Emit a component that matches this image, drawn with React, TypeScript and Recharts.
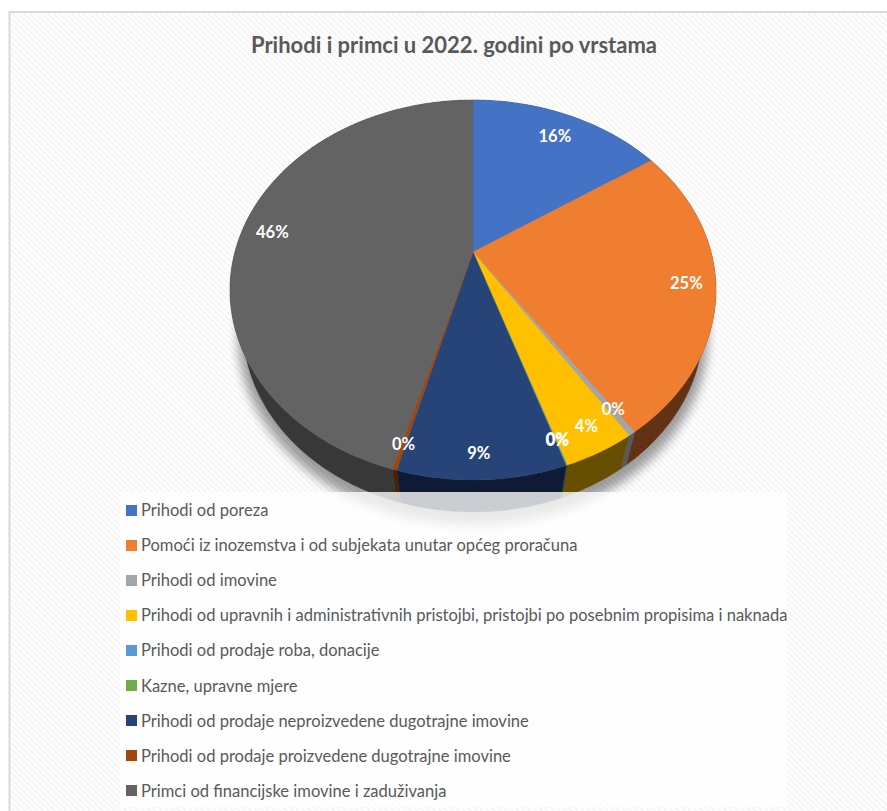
import React from "react";
import { PieChart, Pie, Legend } from "recharts";

const categories = [
  "Prihodi od poreza",
  "Pomoći iz inozemstva i od subjekata unutar općeg proračuna",
  "Prihodi od imovine",
  "Prihodi od upravnih i administrativnih pristojbi, pristojbi po posebnim propisima i naknada",
  "Prihodi od prodaje roba, donacije",
  "Kazne, upravne mjere",
  "Prihodi od prodaje neproizvedene dugotrajne imovine",
  "Prihodi od prodaje proizvedene dugotrajne imovine",
  "Primci od financijske imovine i zaduživanja",
];
const shares = [15.6, 24.8, 0.4, 4.0, 0.05, 0.02, 9.3, 0.25, 45.58];
const topColors = ["#4472C4", "#F07E30", "#A5A5A5", "#FFC000", "#5B9BD5", "#70AD47", "#264478", "#9E480E", "#636363"];
const wallColors = ["#1B2E4F", "#613214", "#565A60", "#665000", "#243E55", "#2D451C", "#0E1B33", "#4A2106", "#383838"];
const labelNudgeX = [-1, 2, 2, 3, 3, 3, -2, -1, -1];
const labelNudgeY = [-2, -5, -6, -5, -3, -3, -2, -2, -4];

const title = "Prihodi i primci u 2022. godini po vrstama";
const FONT = "Lato, 'Open Sans', sans-serif";

const data = categories.map((name, i) => ({ name, value: shares[i], fill: topColors[i], wall: wallColors[i] }));

// Perspective tilt of the disc: the apex sits above the centre of the drawn ellipse.
const TILT = -0.2;
const SQUASH = 190 / 243;
const CENTRE_DROP = 38;
const BOTTOM_SCALE = 230 / 243;
const BOTTOM_SQUASH = 185 / 243;
const BOTTOM_DROP = 75;

function project(deg: number, r = 1) {
  const t = (deg * Math.PI) / 180;
  const x = Math.sin(t) * r;
  const y = -Math.cos(t) * r;
  const d = 1 + TILT * y;
  return { x: (x * Math.sqrt(1 - TILT * TILT)) / d, y: (y + TILT) / d };
}

function arcAngles(a0: number, a1: number) {
  const out: number[] = [];
  const n = Math.max(1, Math.ceil(Math.abs(a1 - a0)));
  for (let i = 0; i <= n; i++) out.push(a0 + ((a1 - a0) * i) / n);
  return out;
}

function TopSlice(p: any) {
  const { cx, cy, outerRadius: R, startAngle, endAngle, fill } = p;
  const pts = arcAngles(90 - startAngle, 90 - endAngle).map((a) => {
    const q = project(a);
    return `${cx + q.x * R} ${cy + CENTRE_DROP + q.y * R * SQUASH}`;
  });
  return <path d={`M${cx} ${cy}L${pts.join("L")}Z`} fill={fill} stroke={fill} strokeWidth={0.3} />;
}

function WallSlice(p: any) {
  const { cx, cy, outerRadius: R, startAngle, endAngle, wall } = p;
  const angles = arcAngles(90 - startAngle, 90 - endAngle);
  const upper = angles.map((a) => {
    const q = project(a);
    return `${cx + q.x * R} ${cy + CENTRE_DROP + q.y * R * SQUASH}`;
  });
  const lower = angles
    .slice()
    .reverse()
    .map((a) => {
      const q = project(a);
      return `${cx + q.x * R * BOTTOM_SCALE} ${cy + BOTTOM_DROP + q.y * R * BOTTOM_SQUASH}`;
    });
  return <path d={`M${upper.join("L")}L${lower.join("L")}Z`} fill={wall} stroke={wall} strokeWidth={0.3} />;
}

function renderLabel(p: any) {
  const { cx, cy, outerRadius: R, midAngle, percent, index } = p;
  const q = project(90 - midAngle);
  const x = cx + 0.87 * q.x * R + labelNudgeX[index];
  const y = cy + CENTRE_DROP + 0.87 * q.y * R * SQUASH + labelNudgeY[index];
  return (
    <text x={x} y={y} fill="#FFFFFF" fontFamily={FONT} fontSize={16.5} fontWeight={700} textAnchor="middle" dominantBaseline="central">
      {`${Math.round(percent * 100)}%`}
    </text>
  );
}

function LegendBox({ payload }: any) {
  const rows = categories.map((c) => (payload || []).find((e: any) => e.value === c)).filter(Boolean);
  return (
    <div style={{ paddingTop: 0.5 }}>
      {rows.map((e: any) => (
        <div key={e.value} style={{ height: 35.1, display: "flex", alignItems: "center", whiteSpace: "nowrap" }}>
          <span style={{ width: 11, height: 11, marginLeft: 6, marginRight: 4, background: e.color, flex: "none" }} />
          <span style={{ fontFamily: FONT, fontSize: 16.55, color: "#595959" }}>{e.value}</span>
        </div>
      ))}
    </div>
  );
}

export default function App() {
  return (
    <div style={{ position: "absolute", left: 0, top: 0 }}>
      <PieChart width={887} height={811} margin={{ top: 0, right: 0, bottom: 0, left: 0 }}>
        <defs>
          <pattern id="hatch" width="4.2" height="4.2" patternUnits="userSpaceOnUse" patternTransform="rotate(45)">
            <rect width="4.2" height="4.2" fill="#FFFFFF" />
            <rect width="4.2" height="1.9" fill="#F5F5F5" />
          </pattern>
          <filter id="soft" x="-20%" y="-20%" width="140%" height="140%">
            <feGaussianBlur stdDeviation="5.5" />
          </filter>
        </defs>
        <rect x={0} y={0} width={887} height={811} fill="#FFFFFF" />
        <rect x={9.5} y={12} width={900} height={820} fill="url(#hatch)" stroke="#D9D9D9" strokeWidth={2} />
        <ellipse cx={473} cy={336} rx={235} ry={189} fill="#000000" opacity={0.38} filter="url(#soft)" />
        <text x={454} y={44} textAnchor="middle" dominantBaseline="central" fontFamily={FONT} fontSize={22} fontWeight={700} fill="#595959">
          {title}
        </text>
        <Pie
          data={data}
          dataKey="value"
          nameKey="name"
          cx={473}
          cy={252}
          outerRadius={243}
          startAngle={90}
          endAngle={-270}
          legendType="none"
          shape={WallSlice}
          isAnimationActive={false}
          label={false}
          labelLine={false}
        />
        <Pie
          data={data}
          dataKey="value"
          nameKey="name"
          cx={473}
          cy={252}
          outerRadius={243}
          startAngle={90}
          endAngle={-270}
          legendType="square"
          shape={TopSlice}
          isAnimationActive={false}
          label={renderLabel}
          labelLine={false}
        />
        <Legend
          layout="vertical"
          align="center"
          verticalAlign="middle"
          itemSorter={null}
          content={<LegendBox />}
          wrapperStyle={{ position: "absolute", left: 120, top: 492, width: 667, height: 315, background: "rgba(255,255,255,0.78)" }}
        />
      </PieChart>
    </div>
  );
}
